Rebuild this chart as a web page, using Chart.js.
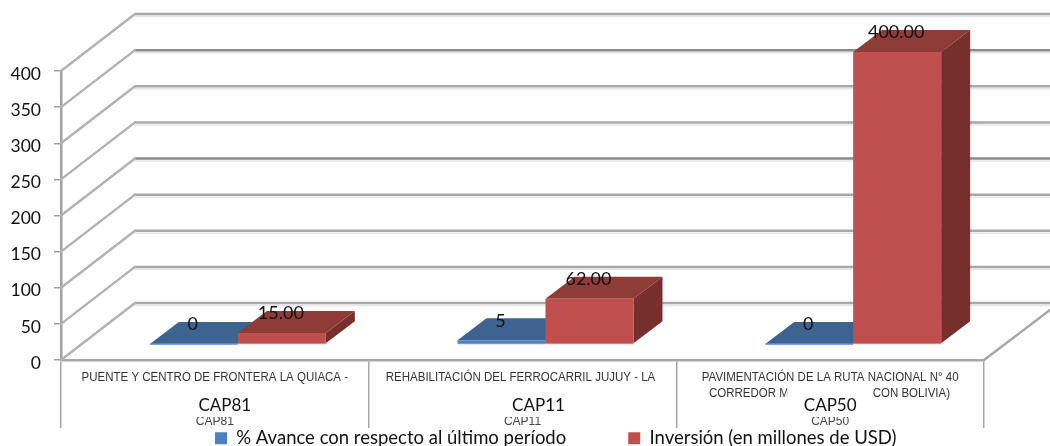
<!DOCTYPE html>
<html><head><meta charset="utf-8">
<style>html,body{margin:0;padding:0;background:#fff}canvas{display:block;filter:blur(0.45px)}</style>
<script src="https://cdn.jsdelivr.net/npm/chart.js@4"></script>
</head><body><canvas id="c" width="1050" height="446"></canvas>
<script>
const categories = ['CAP81', 'CAP11', 'CAP50'];
const avance = [0, 5, 0];
const inversion = [15, 62, 400];
const avanceLabels = ['0', '5', '0'];
const inversionLabels = ['15.00', '62.00', '400.00'];
const seriesNames = ['% Avance con respecto al último período', 'Inversión (en millones de USD)'];
const descriptions = ['PUENTE Y CENTRO DE FRONTERA LA QUIACA -', 'REHABILITACIÓN DEL FERROCARRIL JUJUY - LA', 'PAVIMENTACIÓN DE LA RUTA NACIONAL N° 40'];
const yTicks = [0, 50, 100, 150, 200, 250, 300, 350, 400];

const FONT = 'Lato, "Open Sans", sans-serif';
const NARROW = '"Liberation Sans", sans-serif';
const BAR_DX = 23, BAR_BASE = 344, BAR_K = 292 / 289;
const DEPTH_X = 29, DEPTH_Y = -22;
const WALL_DX = 74, WALL_DY = -57;
const mapX = x => x + BAR_DX;
const mapY = y => BAR_BASE - (360 - y) * BAR_K;
const faces = [
  {top: '#3d6491', side: '#335479', strip: '#7fa6dc'},
  {top: '#8f3c39', side: '#772f2d', strip: '#d99a98'}
];
function poly(ctx, pts, fill) {
  ctx.beginPath();
  pts.forEach((p, i) => i ? ctx.lineTo(p[0], p[1]) : ctx.moveTo(p[0], p[1]));
  ctx.closePath(); ctx.fillStyle = fill; ctx.fill();
}
function narrowText(ctx, text, x, y, align) {
  ctx.save(); ctx.translate(x, y); ctx.scale(0.92, 1);
  ctx.textAlign = align; ctx.fillText(text, 0, 0); ctx.restore();
}
function drawBars3D(chart, index) {
  const {ctx} = chart, f = faces[index], meta = chart.getDatasetMeta(index);
  meta.data.forEach(bar => {
    const hw = bar.width / 2, xl = mapX(bar.x - hw), xr = mapX(bar.x + hw);
    const yt = mapY(bar.y), yb = mapY(bar.base);
    poly(ctx, [[xr, yt], [xr + DEPTH_X, yt + DEPTH_Y], [xr + DEPTH_X, yb + DEPTH_Y], [xr, yb]], f.side);
    poly(ctx, [[xl, yt], [xl + DEPTH_X, yt + DEPTH_Y], [xr + DEPTH_X, yt + DEPTH_Y], [xr, yt]], f.top);
    ctx.fillStyle = f.strip; ctx.fillRect(xl, yb - 0.5, xr - xl, 1.5);
  });
  ctx.save();
  ctx.translate(BAR_DX, BAR_BASE - 360 * BAR_K);
  ctx.scale(1, BAR_K);
  meta.controller.draw();
  ctx.restore();
}
const threeD = {
  id: 'threeD',
  afterInit(chart) {
    const l = chart.legend, u = l.update;
    l.update = function (...a) { u.apply(this, a); this.height = 0; };
  },
  afterLayout(chart) {
    const l = chart.legend, pad = l.options.labels.padding;
    l.left = 215 - pad; l.right = 1050;
    l.top = 429 - pad; l.bottom = 446;
  },
  beforeDatasetsDraw(chart) {
    const {ctx, scales: {y}, chartArea: a} = chart;
    ctx.save();
    ctx.lineCap = 'round';
    yTicks.forEach(v => {
      const py = y.getPixelForValue(v), bx = a.left + WALL_DX, by = py + WALL_DY;
      const strong = v === 350 || v === 200;
      ctx.strokeStyle = '#e6e6e6'; ctx.lineWidth = 1.5;
      ctx.beginPath(); ctx.moveTo(bx, by + 2.5); ctx.lineTo(1050, by + 2.5); ctx.stroke();
      ctx.strokeStyle = strong ? '#8a8a8a' : '#a8a8a8'; ctx.lineWidth = 2.5;
      ctx.beginPath(); ctx.moveTo(bx, by); ctx.lineTo(1050, by); ctx.stroke();
      ctx.strokeStyle = '#b2b2b2';
      ctx.beginPath(); ctx.moveTo(a.left, py); ctx.lineTo(bx, by); ctx.stroke();
    });
    ctx.strokeStyle = '#a8a8a8'; ctx.lineWidth = 2.5;
    ctx.beginPath(); ctx.moveTo(a.right, a.bottom); ctx.lineTo(1050, a.bottom - 50); ctx.stroke();
    ctx.restore();
  },
  // Draw left-to-right so the red boxes sit in front of the blue ones.
  beforeDatasetDraw(chart, args) {
    if (args.index === 1) return false;
    drawBars3D(chart, 0);
    drawBars3D(chart, 1);
    return false;
  },
  afterDatasetsDraw(chart) {
    const {ctx, scales: {x}} = chart;
    ctx.save();
    ctx.textAlign = 'center'; ctx.textBaseline = 'middle';
    // category descriptions
    ctx.fillStyle = '#333'; ctx.font = '12.5px ' + NARROW;
    descriptions.forEach((d, i) => narrowText(ctx, d, x.getPixelForValue(i) + [0, -2, 0][i], 378, 'center'));
    narrowText(ctx, 'CORREDOR M', 709, 394, 'left');
    narrowText(ctx, '(CON BOLIVIA)', 950, 394, 'right');
    // masks + large category labels
    ctx.textAlign = 'center';
    [10, 16, 0].forEach((off, i) => {
      const cx = x.getPixelForValue(i) + off;
      ctx.fillStyle = '#fff'; ctx.fillRect(cx - 43, 386, 86, 31);
      ctx.fillStyle = '#111'; ctx.font = '17px ' + FONT;
      ctx.fillText(categories[i], cx, 406);
    });
    // data labels
    ctx.fillStyle = '#111'; ctx.font = '18px ' + FONT;
    chart.data.datasets.forEach((ds, di) => {
      const texts = di === 0 ? avanceLabels : inversionLabels;
      chart.getDatasetMeta(di).data.forEach((bar, i) => {
        ctx.fillText(texts[i], mapX(bar.x) - 1, mapY(bar.y) - 19.5);
      });
    });
    ctx.restore();
  }
};
new Chart(document.getElementById('c'), {
  type: 'bar',
  data: {
    labels: categories,
    datasets: [
      {label: seriesNames[0], data: avance, backgroundColor: '#4f81bd', clip: false},
      {label: seriesNames[1], data: inversion, backgroundColor: '#c0504d', clip: false}
    ]
  },
  options: {
    responsive: false, animation: false, devicePixelRatio: 1,
    events: [],
    layout: {padding: {left: 0, right: 66, top: 71, bottom: 0}},
    datasets: {bar: {categoryPercentage: 0.572, barPercentage: 1}},
    plugins: {
      tooltip: {enabled: false},
      legend: {
        position: 'bottom', align: 'start',
        labels: {boxWidth: 12, boxHeight: 12, padding: 62, color: '#111', font: {family: FONT, size: 18.5}}
      }
    },
    scales: {
      x: {
        afterFit(s) { s.height = 86; },
        grid: {drawOnChartArea: false, offset: true, tickLength: 68, color: '#a6a6a6', lineWidth: 1.5},
        border: {color: '#a8a8a8', width: 2.5},
        ticks: {padding: -14, color: '#444', maxRotation: 0, font: {family: NARROW, size: 12}}
      },
      y: {
        min: 0, max: 400,
        afterFit(s) { s.width = 61; },
        afterBuildTicks(s) { s.ticks = yTicks.map(v => ({value: v})); },
        grid: {drawOnChartArea: false, tickLength: 7, color: '#a0a0a0', lineWidth: 1.5},
        border: {color: '#a0a0a0', width: 2.5},
        ticks: {padding: 13, labelOffset: 3, color: '#111', font: {family: FONT, size: 17.5}}
      }
    }
  },
  plugins: [threeD]
});
</script></body></html>
